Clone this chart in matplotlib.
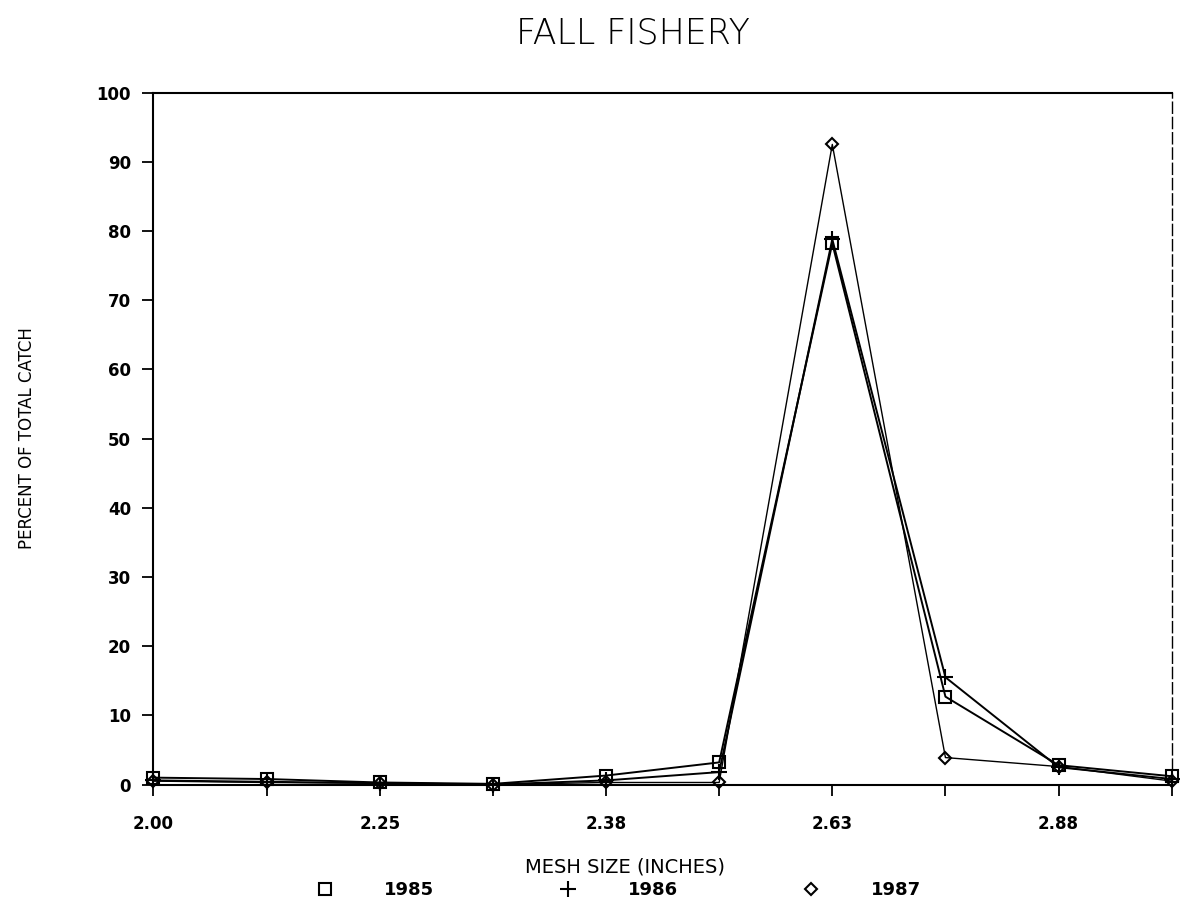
import matplotlib
matplotlib.use('Agg')
import matplotlib.pyplot as plt
from matplotlib.lines import Line2D
import numpy as np

# mesh size categories (only every other one is labelled on the original)
mesh_labels = ['2.00', '', '2.25', '', '2.38', '', '2.63', '', '2.88', '']
years = ['1985', '1986', '1987']
pct_1985 = [1.0, 0.8, 0.3, 0.1, 1.3, 3.2, 78.2, 12.7, 2.8, 1.2]
pct_1986 = [0.6, 0.4, 0.2, 0.0, 0.6, 1.8, 78.8, 15.5, 2.5, 0.8]
pct_1987 = [0.5, 0.3, 0.2, 0.0, 0.3, 0.3, 92.5, 3.9, 2.6, 0.5]

series = [pct_1985, pct_1986, pct_1987]
markers = ['s', '+', 'D']
msizes = [8, 11, 6]
lwidths = [1.4, 1.4, 1.0]

fig = plt.figure(figsize=(11.8, 9.07), dpi=100)
ax = fig.add_axes([0.130, 0.135, 0.863, 0.763])

x = np.arange(len(mesh_labels))
for vals, m, ms, lw in zip(series, markers, msizes, lwidths):
    ax.plot(x, vals, color='black', lw=lw, marker=m, ms=ms,
            mfc='none', mec='black', mew=1.5, clip_on=False)

ax.set_xlim(0, len(mesh_labels) - 1)
ax.set_ylim(0, 100)
ax.set_yticks(np.arange(0, 101, 10))
ax.set_xticks(x)
ax.set_xticklabels(mesh_labels)

ax.tick_params(axis='both', direction='out', length=8, width=1.3,
               labelsize=12, pad=8)
for lab in ax.get_xticklabels() + ax.get_yticklabels():
    lab.set_fontweight('bold')
ax.tick_params(axis='x', pad=14)

for side in ['left', 'bottom', 'top']:
    ax.spines[side].set_linewidth(1.5)
ax.spines['right'].set_linewidth(1.0)
ax.spines['right'].set_linestyle((0, (8, 3)))

ax.set_ylabel('PERCENT OF TOTAL CATCH', fontsize=12)
ax.yaxis.set_label_coords(-0.115, 0.5)
ax.set_xlabel('MESH SIZE (INCHES)', fontsize=14)
ax.xaxis.set_label_coords(0.463, -0.1185)
ax.xaxis.label.set_va('center')
fig.text(0.536, 0.963, 'FALL FISHERY', fontsize=25, fontweight='light',
         ha='center', va='center')

handles = [Line2D([], [], color='black', marker=m, ls='none', mfc='none',
                  mew=1.5, ms=ms) for m, ms in zip(markers, msizes)]
leg = fig.legend(handles, years, loc='center', bbox_to_anchor=(0.524, 0.0187),
                 ncol=3, frameon=False, handlelength=1, handletextpad=2.8,
                 columnspacing=6.9, borderpad=0,
                 prop={'size': 13, 'weight': 'bold'})

fig.savefig('out.png', dpi=100)
